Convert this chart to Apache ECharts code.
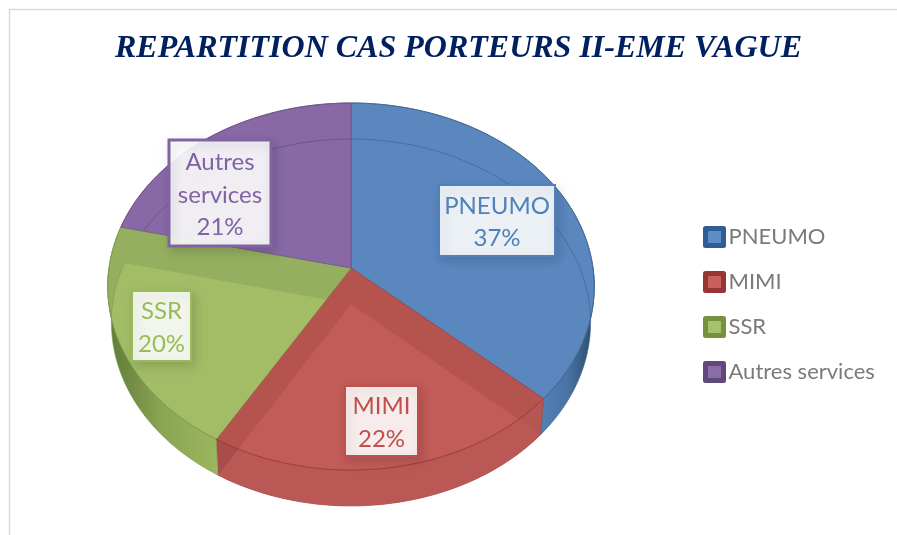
<!DOCTYPE html>
<html>
<head>
<meta charset="utf-8">
<style>html,body{margin:0;padding:0;background:#fff}#c{width:897px;height:535px}</style>
<script src="https://cdn.jsdelivr.net/npm/echarts@6/dist/echarts.min.js"></script>
</head>
<body>
<div id="c"></div>
<script>
// ---- data ----
const titleText = 'REPARTITION CAS PORTEURS II-EME VAGUE';
const categories = ['PNEUMO', 'MIMI', 'SSR', 'Autres services'];
const shares = [36.7, 21.8, 20.2, 21.3];
const labelNames = ['PNEUMO', 'MIMI', 'SSR', 'Autres\nservices'];

// ---- geometry of the tilted disc ----
const disc = {cx: 351, cy: 268, R: 242, K: 181.6, persp: -0.1008, depth: 36, baseScale: 0.985};
// ---- look of each slice ----
const looks = [
  {top:'#5B87BF', inner:'#5B87BF', line:'rgba(45,80,125,.55)', rim:'#44688f', text:'#4F81BD', frame:'#4F81BD', wall:['#537FB4','#4A74A6','#2A4A6A'], base:null, legend:'#2F5E96', swatch:'#5F8DC6', box:[439,185,116,71], bw:2},
  {top:'#B5534F', inner:'#C25C59', line:'rgba(140,40,40,.8)', rim:'#9c3f3c', text:'#C0504D', frame:'#C0504D', wall:['#A84C49','#B95855','#B65653'], base:'#B95855', legend:'#963634', swatch:'#C8605C', box:[345,386,73,70], bw:2},
  {top:'#94AF5F', inner:'#A2BD66', line:'rgba(110,135,65,.45)', rim:'#7f9a4e', text:'#9BBB59', frame:'#9BBB59', wall:['#5F7A38','#8BA653','#9CB65F'], base:null, legend:'#76923C', swatch:'#A6C16C', box:[132,291,59,70], bw:2},
  {top:'#8869A6', inner:'#8869A6', line:'rgba(80,55,110,.55)', rim:'#6d5388', text:'#8064A2', frame:'#8064A2', wall:null, base:null, legend:'#5F497A', swatch:'#8A6CA8', box:[169,140,102,106], bw:3}
];
const uiFont = 'Lato';

function proj(deg, isBase) {
  const t = deg * Math.PI / 180, u = Math.sin(t), v = -Math.cos(t), d = 1 + disc.persp * v;
  const x = disc.R * u / d, y = disc.K * v / d;
  return isBase ? [disc.cx + x * disc.baseScale, disc.cy + y + disc.depth] : [disc.cx + x, disc.cy + y];
}
function arc(a0, a1, isBase) {
  const pts = [], n = Math.max(2, Math.ceil(Math.abs(a1 - a0)));
  for (let i = 0; i <= n; i++) pts.push(proj(a0 + (a1 - a0) * i / n, isBase));
  return pts;
}
function cross(a, b, p) { return (b[0]-a[0])*(p[1]-a[1]) - (b[1]-a[1])*(p[0]-a[0]); }
function clipConvex(subject, clip) {
  let out = subject;
  for (let i = 0; i < clip.length && out.length; i++) {
    const a = clip[i], b = clip[(i + 1) % clip.length], input = out;
    out = [];
    for (let j = 0; j < input.length; j++) {
      const p = input[j], q = input[(j + 1) % input.length];
      const cp = cross(a, b, p), cq = cross(a, b, q);
      if (cp >= 0) out.push(p);
      if ((cp >= 0) !== (cq >= 0)) {
        const s = cp / (cp - cq);
        out.push([p[0] + (q[0]-p[0]) * s, p[1] + (q[1]-p[1]) * s]);
      }
    }
  }
  return out;
}
function insideConvex(p, poly) {
  for (let i = 0; i < poly.length; i++) if (cross(poly[i], poly[(i+1)%poly.length], p) < -0.01) return false;
  return true;
}
function angleRange(idx) {
  const total = shares.reduce((a, b) => a + b, 0);
  let s = 0;
  for (let i = 0; i < idx; i++) s += shares[i];
  return [s / total * 360, (s + shares[idx]) / total * 360];
}

function makeRender(idx) {
  return function () {
    const look = looks[idx], [a0, a1] = angleRange(idx), kids = [];
    const apexTop = [disc.cx, disc.cy], apexBase = [disc.cx, disc.cy + disc.depth];
    const topPoly = [apexTop].concat(arc(a0, a1, false));
    const basePoly = [apexBase].concat(arc(a0, a1, true));

    // side wall (only the part that faces the viewer)
    const w0 = Math.max(a0, 90), w1 = Math.min(a1, 270);
    if (look.wall && w1 > w0) {
      kids.push({type:'polygon', z2:1,
        shape:{points: arc(w0, w1, false).concat(arc(w1, w0, true))},
        style:{fill:{type:'linear',x:0,y:0,x2:1,y2:0,colorStops:
          look.wall.map((c,i)=>({offset:i/(look.wall.length-1),color:c}))},
          stroke:look.rim, lineWidth:.6}});
    }
    if (look.base) {
      kids.push({type:'polygon', z2:2, shape:{points:basePoly}, style:{fill:look.base}});
    }
    // upper face
    kids.push({type:'polygon', z2:3, shape:{points:topPoly},
      style:{fill:look.top, stroke:look.rim, lineWidth:.8}});
    // the disc's underside seen through the upper face
    const see = clipConvex(basePoly, topPoly);
    if (see.length > 2 && look.inner !== look.top) {
      kids.push({type:'polygon', z2:4, shape:{points:see}, style:{fill:look.inner}});
    }
    const baseArc = arc(a0, a1, true).filter(p => insideConvex(p, topPoly));
    if (baseArc.length > 1) {
      kids.push({type:'polyline', z2:5, shape:{points:baseArc},
        style:{fill:null, stroke:look.line, lineWidth:.8}});
    }
    // rim line in front of the underside tint
    kids.push({type:'polyline', z2:6, shape:{points:arc(a0, a1, false)},
      style:{fill:null, stroke:look.rim, lineWidth:.9}});

    // data label
    const b = look.box;
    kids.push({type:'rect', z2:20, shape:{x:b[0],y:b[1],width:b[2],height:b[3]},
      style:{fill:'rgba(255,255,255,.89)', stroke:look.frame, lineWidth:look.bw,
        shadowBlur:10, shadowOffsetX:3, shadowOffsetY:4, shadowColor:'rgba(0,0,0,.15)'}});
    kids.push({type:'text', z2:21, style:{
      x:b[0]+b[2]/2, y:b[1]+b[3]/2+2,
      text:labelNames[idx] + '\n' + Math.round(shares[idx]) + '%',
      align:'center', verticalAlign:'middle',
      fill:look.text, font:'24px ' + uiFont, lineHeight:32.5}});
    return {type:'group', children:kids};
  };
}

const series = categories.map((name, i) => ({
  type:'custom', name, coordinateSystem:'none', silent:true, animation:false,
  data:[{name, value:shares[i]}],
  itemStyle:{color:looks[i].top},
  renderItem:makeRender(i)
}));

const chart = echarts.init(document.getElementById('c'), null, {renderer:'canvas'});
chart.setOption({
  animation:false,
  backgroundColor:'#fff',
  title:{text:titleText, left:110, top:28, textStyle:{
    fontFamily:'Liberation Serif', fontWeight:'bold', fontStyle:'italic', fontSize:32, color:'#002060'}},
  legend:{orient:'vertical', left:698, top:221, itemWidth:18, itemHeight:17, itemGap:23, selectedMode:false,
    textStyle:{fontFamily:uiFont, fontSize:22, color:'#7A7A7A'},
    data:categories.map((name,i)=>({name, icon:'rect',
      itemStyle:{color:looks[i].swatch, borderColor:looks[i].legend, borderWidth:5, borderJoin:'round'}}))},
  graphic:[{type:'polyline', silent:true, shape:{points:[[9.5,535],[9.5,9.5],[897,9.5]]},
    style:{fill:null, stroke:'#D9D9D9', lineWidth:1.5}}],
  series
});
</script>
</body>
</html>
